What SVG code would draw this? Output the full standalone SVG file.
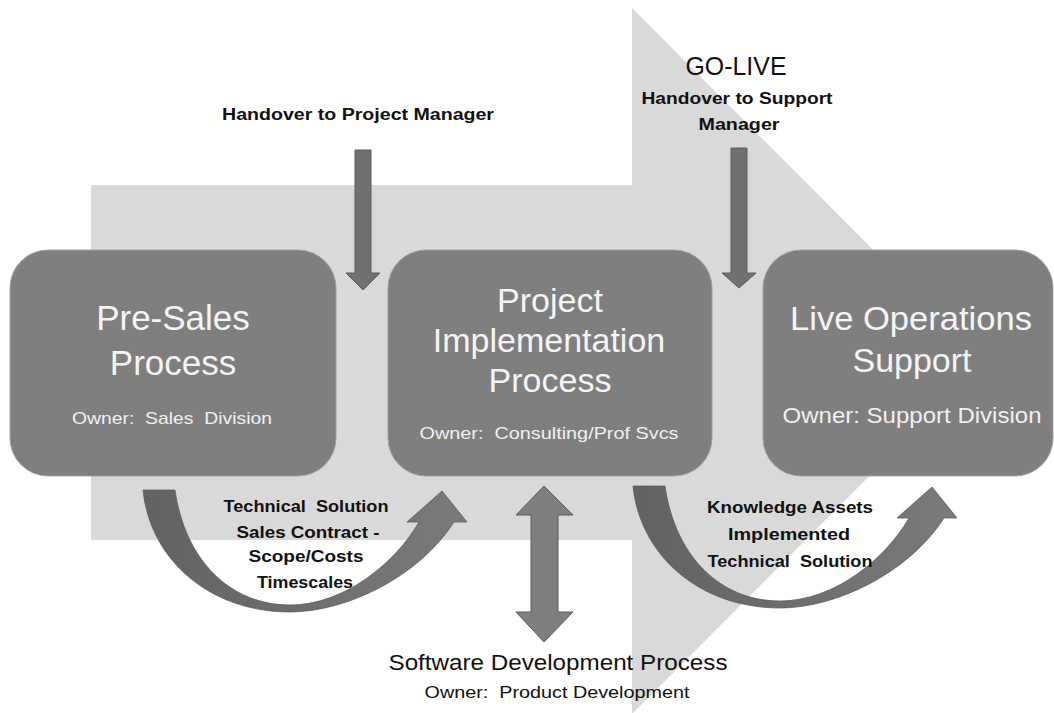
<svg xmlns="http://www.w3.org/2000/svg" width="1054" height="713" viewBox="0 0 1054 713">
<defs>
<style>
.box{fill:#7f7f7f;stroke:#a0a0a0;stroke-width:1}
.title{font-family:"Liberation Sans",Arial,sans-serif;fill:#f4f4f4;text-anchor:middle}
.owner{font-family:"Liberation Sans",Arial,sans-serif;fill:#f0f0f0;text-anchor:middle;white-space:pre}
.lbl{font-family:"Liberation Sans",Arial,sans-serif;fill:#111;text-anchor:middle;font-weight:bold;white-space:pre}
.reg{font-family:"Liberation Sans",Arial,sans-serif;fill:#111;text-anchor:middle;white-space:pre}
.darrow{fill:#717171;stroke:#5c5c5c;stroke-width:1}
.uarrow{fill:url(#ug);stroke:#5e5e5e;stroke-width:0.8}
</style>
<linearGradient id="ug" x1="0" y1="0" x2="1" y2="0">
<stop offset="0" stop-color="#626262"/>
<stop offset="1" stop-color="#7a7a7a"/>
</linearGradient>
</defs>
<rect width="1054" height="713" fill="#ffffff"/>
<g id="background-arrow">
<polygon points="91,185 632,185 632,8 984,361 632,714 632,540 91,540" fill="#d9d9d9"/>
</g>
<g id="connectors">
<polygon class="darrow" points="355,150 371,150 371,273 380,273 363,290 346,273 355,273"/>
<polygon class="darrow" points="731,148 747,148 747,273 756,273 739,288 722,273 731,273"/>
<polygon class="darrow" style="fill:#7f7f7f" points="544,486 573,515 558,515 558,612 573,612 544,642 516,612 531,612 531,515 516,515"/>
<path class="uarrow" d="M143 490 C150 560 210 612 290 612 C345 612 418 578 454 522 L467 522 L442 491 L407 522 L419 522 C396 562 345 605 290 605 C230 605 185 560 175 490 Z"/>
<path class="uarrow" transform="translate(490,-4)" d="M143 490 C150 560 210 612 290 612 C345 612 418 578 454 522 L467 522 L442 491 L407 522 L419 522 C396 562 345 605 290 605 C230 605 185 560 175 490 Z"/>
</g>
<g id="node-presales">
<rect class="box" x="10" y="250" width="326" height="226" rx="38" ry="38"/>
<text class="title" x="173" y="330" font-size="35">Pre-Sales</text>
<text class="title" x="173" y="375" font-size="35">Process</text>
<text class="owner" x="172" y="424" font-size="17" textLength="200" lengthAdjust="spacingAndGlyphs">Owner:  Sales  Division</text>
</g>
<g id="node-implementation">
<rect class="box" x="388" y="250" width="324" height="226" rx="38" ry="38"/>
<text class="title" x="550" y="312" font-size="34">Project</text>
<text class="title" x="549" y="352" font-size="34">Implementation</text>
<text class="title" x="550" y="392" font-size="34">Process</text>
<text class="owner" x="549" y="439" font-size="17" textLength="259" lengthAdjust="spacingAndGlyphs">Owner:  Consulting/Prof Svcs</text>
</g>
<g id="node-liveops">
<rect class="box" x="763" y="250" width="290" height="226" rx="38" ry="38"/>
<text class="title" x="911" y="330" font-size="34" textLength="242" lengthAdjust="spacingAndGlyphs">Live Operations</text>
<text class="title" x="912" y="372" font-size="34">Support</text>
<text class="owner" x="912" y="423" font-size="22" textLength="259" lengthAdjust="spacingAndGlyphs">Owner: Support Division</text>
</g>
<g id="label-handover-pm">
<text class="lbl" x="358" y="120" font-size="16" textLength="272" lengthAdjust="spacingAndGlyphs">Handover to Project Manager</text>
</g>
<g id="label-golive">
<text class="reg" x="736" y="75" font-size="25" textLength="101" lengthAdjust="spacingAndGlyphs">GO-LIVE</text>
<text class="lbl" x="737" y="104" font-size="16" textLength="191" lengthAdjust="spacingAndGlyphs">Handover to Support</text>
<text class="lbl" x="739" y="130" font-size="16" textLength="81" lengthAdjust="spacingAndGlyphs">Manager</text>
</g>
<g id="label-presales-handoff">
<text class="lbl" x="306" y="512" font-size="17" textLength="165" lengthAdjust="spacingAndGlyphs">Technical  Solution</text>
<text class="lbl" x="308" y="538" font-size="17" textLength="143" lengthAdjust="spacingAndGlyphs">Sales Contract -</text>
<text class="lbl" x="306" y="562" font-size="17" textLength="115" lengthAdjust="spacingAndGlyphs">Scope/Costs</text>
<text class="lbl" x="305" y="588" font-size="17" textLength="96" lengthAdjust="spacingAndGlyphs">Timescales</text>
</g>
<g id="label-support-handoff">
<text class="lbl" x="790" y="513" font-size="17" textLength="166" lengthAdjust="spacingAndGlyphs">Knowledge Assets</text>
<text class="lbl" x="789" y="540" font-size="17" textLength="122" lengthAdjust="spacingAndGlyphs">Implemented</text>
<text class="lbl" x="790" y="567" font-size="17" textLength="165" lengthAdjust="spacingAndGlyphs">Technical  Solution</text>
</g>
<g id="node-software-dev">
<text class="reg" x="558" y="670" font-size="22" textLength="339" lengthAdjust="spacingAndGlyphs">Software Development Process</text>
<text class="reg" x="557" y="698" font-size="16" textLength="265" lengthAdjust="spacingAndGlyphs">Owner:  Product Development</text>
</g>
</svg>
